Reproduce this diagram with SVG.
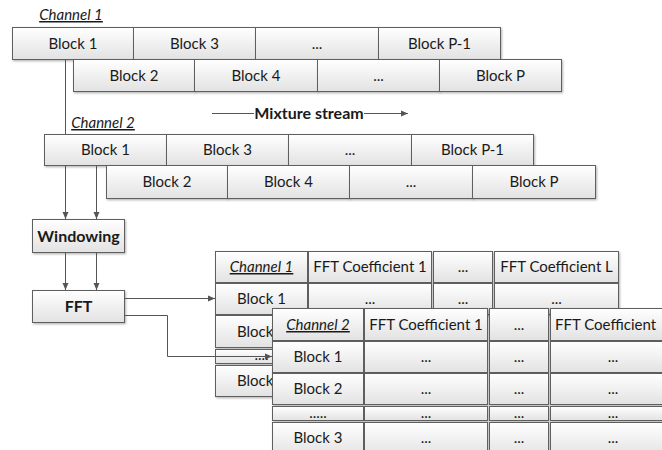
<svg xmlns="http://www.w3.org/2000/svg" width="662" height="450" viewBox="0 0 662 450">
  <defs>
    <linearGradient id="cellFill" x1="0" y1="0" x2="0" y2="1">
      <stop offset="0" stop-color="#ffffff"/>
      <stop offset="1" stop-color="#e2e2e2"/>
    </linearGradient>
    <filter id="shadow" x="-10%" y="-10%" width="130%" height="140%">
      <feDropShadow dx="1" dy="1.2" stdDeviation="0.8" flood-color="#000" flood-opacity="0.3"/>
    </filter>
    <marker id="arrow" markerWidth="8" markerHeight="8" refX="7" refY="4" orient="auto" markerUnits="userSpaceOnUse">
      <path d="M0,1 L7,4 L0,7 Z" fill="#555"/>
    </marker>
  </defs>
  <style>
    .cell { fill: url(#cellFill); stroke: #5f5f5f; stroke-width: 1; filter: url(#shadow); }
    .t { font-family: Lato, "Liberation Sans", sans-serif; font-size: 15px; fill: #1a1a1a; text-anchor: middle; }
    .b { font-weight: bold; font-size: 16px; }
    .ch { font-style: italic; text-decoration: underline; }
    .l { text-anchor: start; }
    .wire { fill: none; stroke: #555; stroke-width: 1; }
  </style>

  <rect width="662" height="450" fill="#ffffff"/>

  <!-- Channel 1 mixture stream -->
  <g id="stream-channel-1">
    <text class="t ch" x="71" y="20">Channel 1</text>
    <rect class="cell" x="12.5" y="27.5" width="121" height="32"/>
    <rect class="cell" x="133.5" y="27.5" width="122" height="32"/>
    <rect class="cell" x="255.5" y="27.5" width="123" height="32"/>
    <rect class="cell" x="378.5" y="27.5" width="122" height="32"/>
    <text class="t" x="73" y="48.5">Block 1</text>
    <text class="t" x="194.5" y="48.5">Block 3</text>
    <text class="t" x="317" y="48.5">...</text>
    <text class="t" x="439.5" y="48.5">Block P-1</text>
    <rect class="cell" x="73.5" y="59.5" width="121" height="32"/>
    <rect class="cell" x="194.5" y="59.5" width="123" height="32"/>
    <rect class="cell" x="317.5" y="59.5" width="122" height="32"/>
    <rect class="cell" x="439.5" y="59.5" width="122" height="32"/>
    <text class="t" x="134" y="80.5">Block 2</text>
    <text class="t" x="256" y="80.5">Block 4</text>
    <text class="t" x="378.5" y="80.5">...</text>
    <text class="t" x="500.5" y="80.5">Block P</text>
  </g>

  <!-- stream direction -->
  <g id="mixture-stream">
    <line class="wire" x1="212" y1="113.5" x2="254" y2="113.5"/>
    <text class="t b" x="309" y="119">Mixture stream</text>
    <line class="wire" x1="364" y1="113.5" x2="408" y2="113.5" marker-end="url(#arrow)"/>
  </g>

  <!-- Channel 2 mixture stream -->
  <g id="stream-channel-2">
    <text class="t ch" x="103" y="128">Channel 2</text>
    <rect class="cell" x="44.5" y="134.5" width="122" height="31"/>
    <rect class="cell" x="166.5" y="134.5" width="122" height="31"/>
    <rect class="cell" x="288.5" y="134.5" width="123" height="31"/>
    <rect class="cell" x="411.5" y="134.5" width="122" height="31"/>
    <text class="t" x="105.5" y="155">Block 1</text>
    <text class="t" x="227.5" y="155">Block 3</text>
    <text class="t" x="350" y="155">...</text>
    <text class="t" x="472.5" y="155">Block P-1</text>
    <rect class="cell" x="106.5" y="165.5" width="121" height="33"/>
    <rect class="cell" x="227.5" y="165.5" width="122" height="33"/>
    <rect class="cell" x="349.5" y="165.5" width="123" height="33"/>
    <rect class="cell" x="472.5" y="165.5" width="123" height="33"/>
    <text class="t" x="167" y="187">Block 2</text>
    <text class="t" x="288.5" y="187">Block 4</text>
    <text class="t" x="411" y="187">...</text>
    <text class="t" x="534" y="187">Block P</text>
  </g>

  <g id="windowing">
    <rect class="cell" x="32.5" y="219.5" width="92" height="33"/>
    <text class="t b" x="78.5" y="241.5">Windowing</text>
  </g>

  <g id="fft">
    <rect class="cell" x="32.5" y="290.5" width="92" height="32"/>
    <text class="t b" x="78.5" y="312">FFT</text>
  </g>

  <!-- Channel 1 coefficient table -->
  <g id="table-channel-1">
    <rect class="cell" x="215.5" y="251.5" width="92" height="31"/>
    <rect class="cell" x="308.5" y="251.5" width="123" height="31"/>
    <rect class="cell" x="433.5" y="251.5" width="59" height="31"/>
    <rect class="cell" x="494.5" y="251.5" width="124" height="31"/>
    <text class="t ch" x="261.5" y="272">Channel 1</text>
    <text class="t" x="370" y="272">FFT Coefficient 1</text>
    <text class="t" x="463" y="272">...</text>
    <text class="t" x="556.5" y="272">FFT Coefficient L</text>

    <rect class="cell" x="215.5" y="283.5" width="92" height="31"/>
    <rect class="cell" x="308.5" y="283.5" width="123" height="31"/>
    <rect class="cell" x="433.5" y="283.5" width="59" height="31"/>
    <rect class="cell" x="494.5" y="283.5" width="124" height="31"/>
    <text class="t" x="261.5" y="304">Block 1</text>
    <text class="t" x="370" y="304">...</text>
    <text class="t" x="463" y="304">...</text>
    <text class="t" x="556.5" y="304">...</text>

    <rect class="cell" x="215.5" y="315.5" width="92" height="32"/>
    <text class="t" x="261.5" y="336.5">Block 2</text>

    <rect class="cell" x="215.5" y="349.5" width="92" height="14"/>
    <text class="t" x="261.5" y="360">....</text>

    <rect class="cell" x="215.5" y="365.5" width="92" height="31"/>
    <text class="t" x="261.5" y="386">Block 3</text>
  </g>

  <g id="connectors">
    <line class="wire" x1="65.5" y1="59.5" x2="65.5" y2="134.5"/>
    <line class="wire" x1="65.5" y1="165.5" x2="65.5" y2="219" marker-end="url(#arrow)"/>
    <line class="wire" x1="96.5" y1="165.5" x2="96.5" y2="219" marker-end="url(#arrow)"/>
    <line class="wire" x1="65.5" y1="252.5" x2="65.5" y2="290" marker-end="url(#arrow)"/>
    <line class="wire" x1="96.5" y1="252.5" x2="96.5" y2="290" marker-end="url(#arrow)"/>
    <line class="wire" x1="124.5" y1="298.5" x2="215" y2="298.5" marker-end="url(#arrow)"/>
    <polyline class="wire" points="124.5,315.5 167.5,315.5 167.5,356.5 272,356.5" marker-end="url(#arrow)"/>
  </g>

  <!-- Channel 2 coefficient table -->
  <g id="table-channel-2">
    <rect class="cell" x="272.5" y="308.5" width="91" height="32"/>
    <rect class="cell" x="364.5" y="308.5" width="123" height="32"/>
    <rect class="cell" x="489.5" y="308.5" width="59" height="32"/>
    <rect class="cell" x="550.5" y="308.5" width="126" height="32"/>
    <text class="t ch" x="318" y="330">Channel 2</text>
    <text class="t" x="426" y="330">FFT Coefficient 1</text>
    <text class="t" x="519" y="330">...</text>
    <text class="t l" x="555" y="330">FFT Coefficient</text>

    <rect class="cell" x="272.5" y="341.5" width="91" height="31"/>
    <rect class="cell" x="364.5" y="341.5" width="123" height="31"/>
    <rect class="cell" x="489.5" y="341.5" width="59" height="31"/>
    <rect class="cell" x="550.5" y="341.5" width="126" height="31"/>
    <text class="t" x="318" y="361.5">Block 1</text>
    <text class="t" x="426" y="361.5">...</text>
    <text class="t" x="519" y="361.5">...</text>
    <text class="t" x="613" y="361.5">...</text>

    <rect class="cell" x="272.5" y="373.5" width="91" height="31"/>
    <rect class="cell" x="364.5" y="373.5" width="123" height="31"/>
    <rect class="cell" x="489.5" y="373.5" width="59" height="31"/>
    <rect class="cell" x="550.5" y="373.5" width="126" height="31"/>
    <text class="t" x="318" y="393.5">Block 2</text>
    <text class="t" x="426" y="393.5">...</text>
    <text class="t" x="519" y="393.5">...</text>
    <text class="t" x="613" y="393.5">...</text>

    <rect class="cell" x="272.5" y="406.5" width="91" height="14"/>
    <rect class="cell" x="364.5" y="406.5" width="123" height="14"/>
    <rect class="cell" x="489.5" y="406.5" width="59" height="14"/>
    <rect class="cell" x="550.5" y="406.5" width="126" height="14"/>
    <text class="t" x="318" y="418">.....</text>
    <text class="t" x="426" y="418">...</text>
    <text class="t" x="519" y="418">...</text>
    <text class="t" x="613" y="418">...</text>

    <rect class="cell" x="272.5" y="422.5" width="91" height="34"/>
    <rect class="cell" x="364.5" y="422.5" width="123" height="34"/>
    <rect class="cell" x="489.5" y="422.5" width="59" height="34"/>
    <rect class="cell" x="550.5" y="422.5" width="126" height="34"/>
    <text class="t" x="318" y="443">Block 3</text>
    <text class="t" x="426" y="443">...</text>
    <text class="t" x="519" y="443">...</text>
    <text class="t" x="613" y="443">...</text>
  </g>
</svg>
